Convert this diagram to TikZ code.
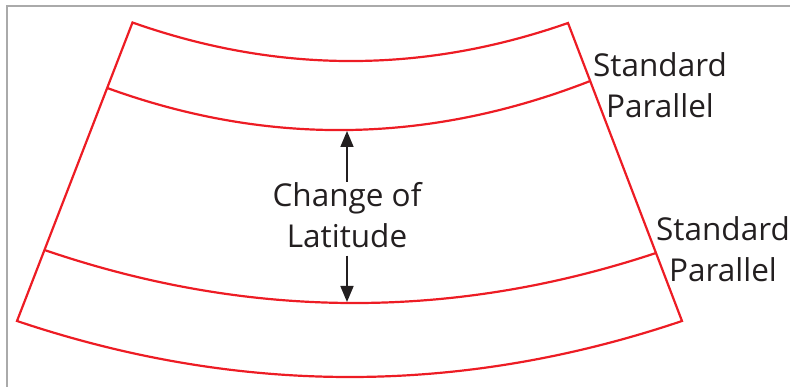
\documentclass[tikz,border=0pt]{standalone}
\usepackage{fontspec}
\setmainfont{Open Sans}
\usetikzlibrary{arrows.meta,calc}
\definecolor{mapred}{RGB}{237,28,36}
\definecolor{ink}{RGB}{35,31,32}
\definecolor{framegray}{RGB}{170,170,170}
\begin{document}
\begin{tikzpicture}[x=1pt,y=-1pt,
  edge/.style={draw=mapred, line width=2.2pt, line join=miter},
  lbl/.style={text=ink, align=center, font=\fontsize{31.5}{41}\selectfont, inner sep=0pt},
  arr/.style={draw=ink, line width=1.7pt, -{Triangle[length=16pt,width=13pt]}}]
\useasboundingbox (0,0) rectangle (790,387);
\draw[framegray, line width=1.5pt] (7,387) -- (7,6) -- (790,6);
% fan corners
\coordinate (TL) at (132.5,22.5);
\coordinate (TR) at (568,23);
\coordinate (BL) at (17,321);
\coordinate (BR) at (682,321);
\coordinate (P1L) at (107.2,88);
\coordinate (P1R) at (590.2,81);
\coordinate (P2L) at (44.5,250);
\coordinate (P2R) at (656,253);
% quadratic control points (apex of each arc)
\coordinate (QT) at (350,99.3);
\coordinate (Q1) at (348,175.5);
\coordinate (Q2) at (350,354.5);
\coordinate (QB) at (350,433);
% outline
\draw[edge] (TL) -- (BL)
  .. controls ($(BL)!2/3!(QB)$) and ($(BR)!2/3!(QB)$) .. (BR) -- (TR)
  .. controls ($(TR)!2/3!(QT)$) and ($(TL)!2/3!(QT)$) .. (TL) -- cycle;
% standard parallels
\draw[edge] (P1L) .. controls ($(P1L)!2/3!(Q1)$) and ($(P1R)!2/3!(Q1)$) .. (P1R);
\draw[edge] (P2L) .. controls ($(P2L)!2/3!(Q2)$) and ($(P2R)!2/3!(Q2)$) .. (P2R);
% labels
\node[lbl, anchor=base] (sp1) at (660,118) {Standard\\Parallel};
\node[lbl, anchor=base] (sp2) at (723,282) {Standard\\Parallel};
\node[lbl, anchor=base] (chg) at (347,248) {Change of\\Latitude};
\coordinate (uptip) at (347,131);
\coordinate (dntip) at (347,302);
\draw[arr] ([yshift=1pt]chg.north -| uptip) -- (uptip);
\draw[arr] ([yshift=-7pt]chg.south -| dntip) -- (dntip);
\end{tikzpicture}
\end{document}
